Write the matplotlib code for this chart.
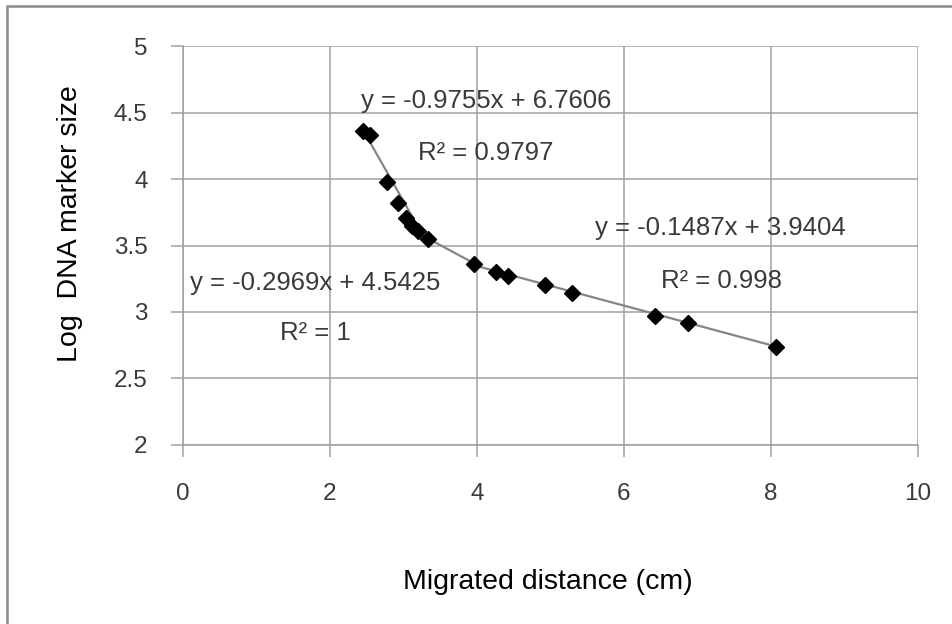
"""Log DNA marker size vs migrated distance, with three piecewise trendlines."""
import matplotlib
matplotlib.use("Agg")
import matplotlib.pyplot as plt
import numpy as np
from matplotlib.patches import Rectangle

# marker bands
distance = [2.45, 2.55, 2.77, 2.93, 3.04, 3.12, 3.20, 3.33, 3.96, 4.26, 4.43, 4.93, 5.30, 6.42, 6.87, 8.07]
log_size = [4.36, 4.33, 3.98, 3.82, 3.71, 3.65, 3.61, 3.55, 3.36, 3.30, 3.27, 3.20, 3.14, 2.97, 2.92, 2.74]

# trendlines: (slope, intercept, x from, x to, R2)
fits = [
    (-0.9755, 6.7606, 2.45, 3.33, "0.9797"),
    (-0.2969, 4.5425, 3.33, 3.96, "1"),
    (-0.1487, 3.9404, 3.96, 8.07, "0.998"),
]
# label positions for equation / R2 text (data coords)
eq_pos = [(4.12, 4.59), (1.80, 3.22), (7.31, 3.63)]
r2_pos = [(4.12, 4.20), (1.80, 2.84), (7.33, 3.23)]

GRID = "#a0a0a0"
TXT = "#3a3a3a"

plt.rcParams["font.family"] = ["Liberation Sans", "DejaVu Sans"]

fig = plt.figure(figsize=(9.53, 6.24), dpi=100)
fig.patches.append(Rectangle((7 / 953, -0.1), 2, 1.1 - 6 / 624, transform=fig.transFigure,
                             fill=False, edgecolor="#8a8a8a", linewidth=1.8))
ax = fig.add_axes([0.192, 0.287, 0.771, 0.639])

for slope, icpt, x0, x1, _ in fits:
    xs = np.array([x0, x1])
    ax.plot(xs, slope * xs + icpt, color="#858585", linewidth=1.6, zorder=2)

ax.plot(distance, log_size, linestyle="none", marker="D", markersize=8,
        color="black", zorder=3)

for (slope, icpt, _, _, r2), (ex, ey), (rx, ry) in zip(fits, eq_pos, r2_pos):
    sign = "+" if icpt >= 0 else "-"
    ax.text(ex, ey, f"y = {slope:.4f}x {sign} {abs(icpt):.4f}", ha="center", va="center",
            fontsize=18.5, color=TXT, zorder=4)
    ax.text(rx, ry, f"R² = {r2}", ha="center", va="center", fontsize=18.5, color=TXT, zorder=4)

ax.set_xlim(0, 10)
ax.set_ylim(2, 5)
ax.set_xticks([0, 2, 4, 6, 8, 10])
ax.set_yticks([2, 2.5, 3, 3.5, 4, 4.5, 5])
ax.set_yticklabels(["2", "2.5", "3", "3.5", "4", "4.5", "5"])
ax.grid(True, color=GRID, linewidth=1.1)
ax.set_axisbelow(True)
for side in ["top", "right"]:
    ax.spines[side].set_visible(False)
for side in ["left", "bottom"]:
    ax.spines[side].set_color(GRID)
    ax.spines[side].set_linewidth(1.1)
ax.tick_params(direction="out", length=8.5, width=1.1, color=GRID, labelsize=17.5,
               labelcolor=TXT)
ax.tick_params(axis="x", pad=19)
ax.tick_params(axis="y", pad=17)
ax.set_xlabel("Migrated distance (cm)", fontsize=20.5, color="black")
ax.set_ylabel("Log  DNA marker size", fontsize=20.5, color="black")
ax.xaxis.set_label_coords(0.497, -0.343)
ax.xaxis.label.set_va("center")
ax.yaxis.set_label_coords(-0.154, 0.554)
ax.yaxis.label.set_va("center")

fig.savefig("out.png", dpi=100)
